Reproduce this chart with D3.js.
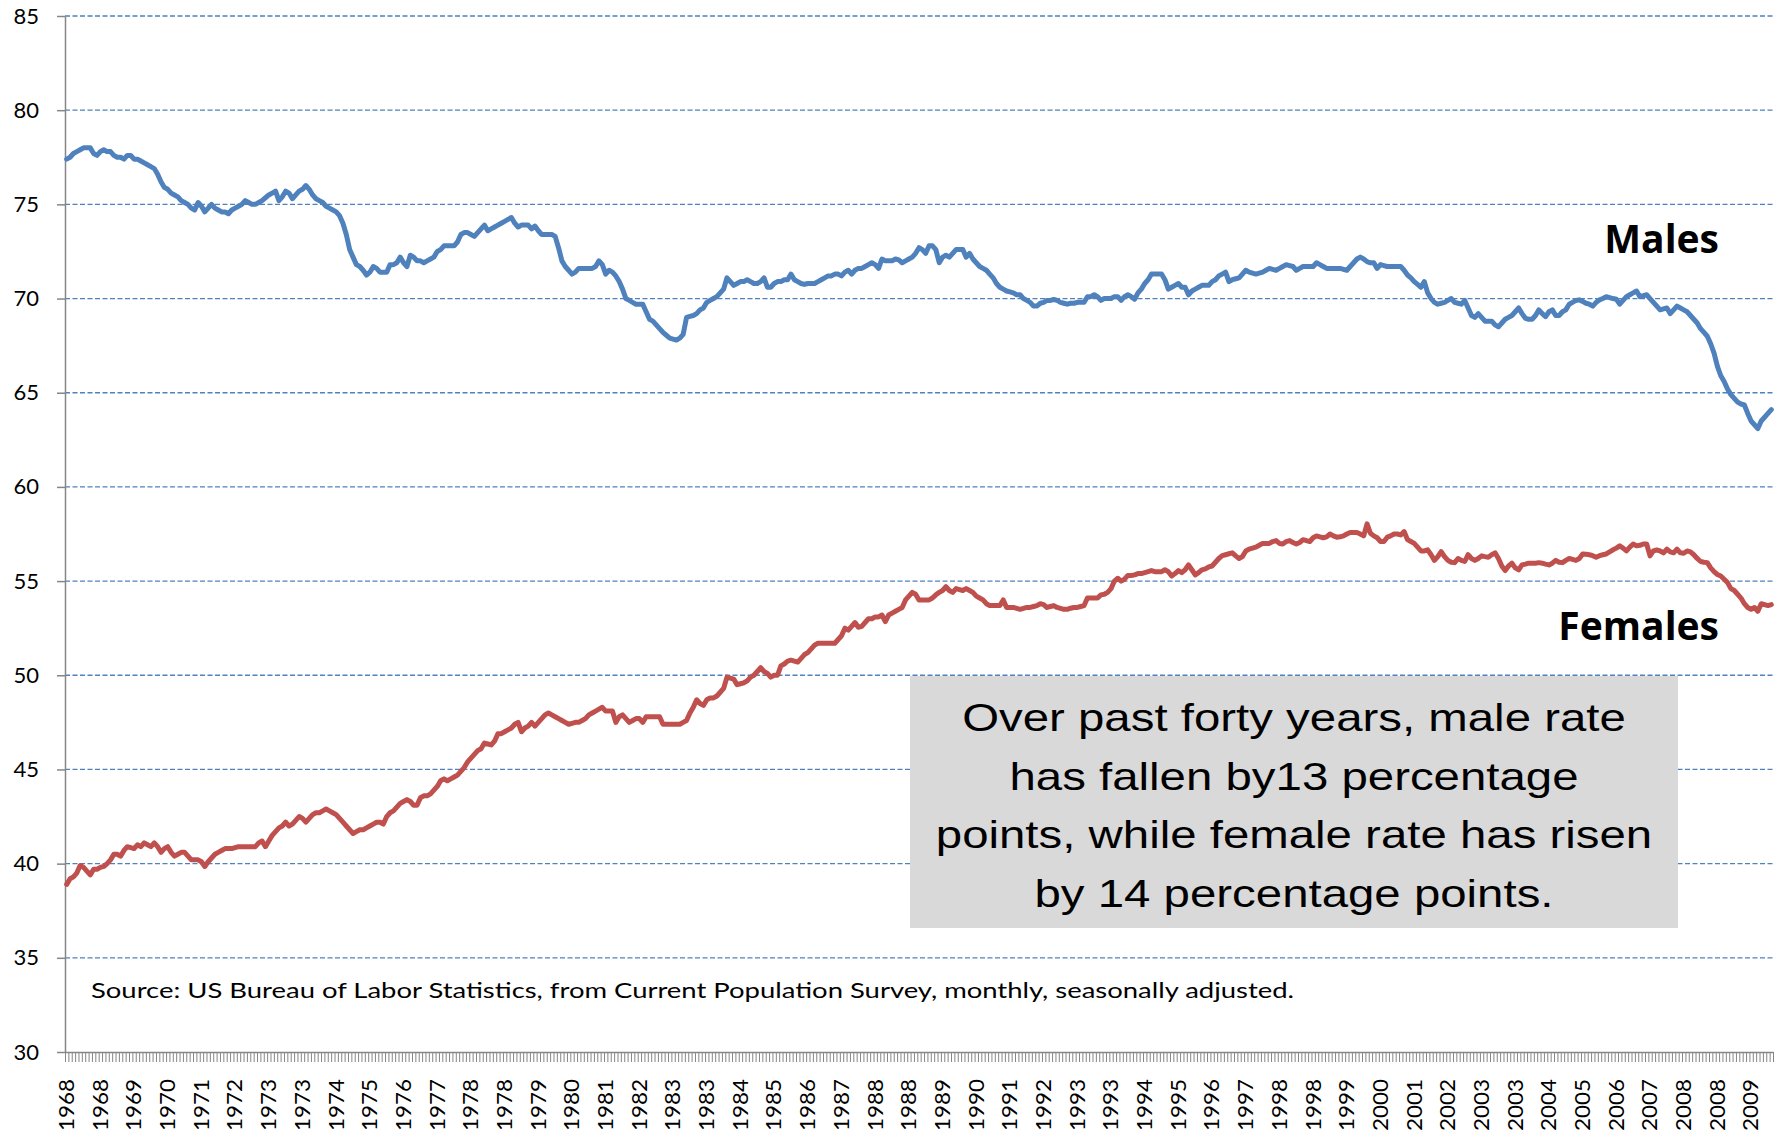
<!DOCTYPE html>
<html>
<head>
<meta charset="utf-8">
<script src="https://cdn.jsdelivr.net/npm/d3@7"></script>
<style>
    body { margin: 0; background: #ffffff; }
    .gridLines { stroke: #4f81bd; stroke-width: 1.3; stroke-dasharray: 5,2.5; }
    .axis path, .axis line { stroke: #868686; stroke-width: 1.5; fill: none; }
    .xAxis line { stroke-width: 1; }
    .axis text { font-family: Lato, sans-serif; font-size: 22px; fill: #000000; }
    .yearLabel { font-family: Lato, sans-serif; font-size: 21px; fill: #000000; }
    .seriesLabel { font-family: "Open Sans", sans-serif; font-weight: bold; font-size: 39px; fill: #000000; }
    .noteText { font-family: "Liberation Sans", Arial, sans-serif; font-size: 47.4px; fill: #000000; }
    .source { font-family: Lato, sans-serif; font-size: 21.5px; fill: #000000; }
</style>
</head>
<body>
<script>
(function(){
    //pseudo-global data (monthly, Jan 1968 - Mar 2010)
    var yTicks = [30, 35, 40, 45, 50, 55, 60, 65, 70, 75, 80, 85];
    var gridValues = [35, 40, 45, 50, 55, 60, 65, 70, 75, 80, 85];
    var labelEvery = 10; //a year label every 10 months
    var xLabels = ["1968","1968","1969","1970","1971","1972","1973","1973","1974","1975",
        "1976","1977","1978","1978","1979","1980","1981","1982","1983","1983",
        "1984","1985","1986","1987","1988","1988","1989","1990","1991","1992",
        "1993","1993","1994","1995","1996","1997","1998","1998","1999","2000",
        "2001","2002","2003","2003","2004","2005","2006","2007","2008","2008","2009"];

    var males = [
        77.4,77.5,77.7,77.8,77.9,78.0,78.0,78.0,77.7,77.6,77.8,77.9,
        77.8,77.8,77.6,77.5,77.5,77.4,77.6,77.6,77.4,77.4,77.3,77.2,
        77.1,77.0,76.9,76.6,76.2,75.9,75.8,75.6,75.5,75.4,75.2,75.1,
        75.0,74.8,74.7,75.1,74.9,74.6,74.8,75.0,74.8,74.7,74.6,74.6,
        74.5,74.7,74.8,74.9,75.0,75.2,75.1,75.0,75.0,75.1,75.2,75.35,
        75.5,75.6,75.7,75.2,75.4,75.7,75.6,75.3,75.5,75.7,75.8,76.0,
        75.8,75.5,75.3,75.2,75.1,74.9,74.8,74.7,74.6,74.4,74.0,73.4,
        72.6,72.2,71.8,71.7,71.5,71.25,71.4,71.7,71.6,71.4,71.4,71.4,
        71.8,71.8,71.9,72.2,71.9,71.7,72.3,72.2,72.0,72.0,71.9,72.0,
        72.1,72.2,72.5,72.6,72.8,72.8,72.8,72.8,73.0,73.4,73.5,73.5,
        73.4,73.3,73.5,73.7,73.9,73.6,73.7,73.8,73.9,74.0,74.1,74.2,
        74.3,74.0,73.8,73.9,73.9,73.9,73.7,73.85,73.6,73.4,73.4,73.4,
        73.4,73.3,72.7,72.0,71.7,71.5,71.3,71.4,71.6,71.6,71.6,71.6,
        71.6,71.7,72.0,71.8,71.3,71.5,71.4,71.2,70.9,70.5,70.0,69.9,
        69.8,69.7,69.7,69.7,69.3,68.9,68.8,68.6,68.4,68.2,68.05,67.9,
        67.85,67.8,67.9,68.1,69.0,69.05,69.1,69.2,69.4,69.5,69.8,69.9,
        70.0,70.1,70.3,70.5,71.1,70.9,70.7,70.8,70.9,70.9,71.0,70.9,
        70.8,70.8,70.9,71.1,70.6,70.6,70.8,70.9,70.9,71.0,71.0,71.3,
        71.0,70.9,70.8,70.75,70.8,70.8,70.8,70.9,71.0,71.1,71.2,71.2,
        71.3,71.3,71.2,71.4,71.5,71.3,71.5,71.6,71.6,71.7,71.8,71.9,
        71.8,71.6,72.1,72.0,72.0,72.0,72.1,72.05,71.9,72.0,72.1,72.2,
        72.4,72.7,72.6,72.4,72.8,72.8,72.6,71.9,72.2,72.3,72.2,72.4,
        72.6,72.6,72.6,72.2,72.4,72.1,71.9,71.7,71.6,71.5,71.3,71.1,
        70.8,70.6,70.5,70.4,70.35,70.3,70.2,70.2,70.0,69.9,69.8,69.6,
        69.6,69.75,69.8,69.9,69.9,69.95,69.9,69.8,69.75,69.7,69.75,69.75,
        69.8,69.8,69.8,70.1,70.1,70.2,70.1,69.9,70.0,70.0,70.0,70.1,
        70.1,69.9,70.1,70.2,70.1,69.96,70.3,70.5,70.8,71.0,71.3,71.3,
        71.3,71.3,71.0,70.5,70.6,70.7,70.8,70.6,70.6,70.2,70.4,70.5,
        70.6,70.7,70.7,70.7,70.9,71.0,71.2,71.3,71.4,70.9,71.0,71.05,
        71.1,71.3,71.5,71.4,71.35,71.3,71.35,71.4,71.5,71.6,71.55,71.5,
        71.6,71.7,71.8,71.75,71.7,71.5,71.6,71.7,71.7,71.7,71.7,71.9,
        71.8,71.7,71.6,71.6,71.6,71.6,71.6,71.55,71.5,71.7,71.9,72.1,
        72.2,72.1,71.96,71.9,71.9,71.6,71.8,71.75,71.7,71.7,71.7,71.7,
        71.7,71.5,71.25,71.1,70.9,70.75,70.6,70.9,70.3,70.0,69.8,69.7,
        69.75,69.8,69.9,70.0,69.8,69.75,69.7,69.9,69.5,69.1,69.0,69.2,
        69.0,68.8,68.8,68.8,68.6,68.5,68.7,68.9,69.0,69.1,69.3,69.5,
        69.2,68.95,68.9,68.9,69.1,69.4,69.2,69.04,69.3,69.4,69.1,69.1,
        69.3,69.4,69.7,69.8,69.9,69.93,69.85,69.75,69.7,69.6,69.8,69.93,
        70.0,70.1,70.05,70.0,69.96,69.7,69.9,70.1,70.2,70.3,70.4,70.1,
        70.15,70.2,70.0,69.8,69.6,69.4,69.45,69.5,69.2,69.4,69.6,69.5,
        69.4,69.3,69.1,68.9,68.7,68.4,68.2,68.0,67.6,67.1,66.4,65.9,
        65.6,65.2,64.9,64.7,64.5,64.4,64.35,63.9,63.5,63.3,63.1,63.5,
        63.7,63.9,64.1
    ];

    var females = [
        38.9,39.2,39.3,39.5,39.9,39.8,39.6,39.4,39.7,39.7,39.8,39.85,
        40.0,40.2,40.5,40.5,40.4,40.7,40.9,40.85,40.8,41.0,40.9,41.1,
        41.0,40.9,41.1,40.9,40.6,40.8,40.9,40.6,40.4,40.5,40.6,40.6,
        40.4,40.2,40.2,40.2,40.1,39.85,40.1,40.3,40.5,40.6,40.7,40.8,
        40.8,40.8,40.85,40.9,40.9,40.9,40.9,40.9,40.9,41.1,41.2,40.9,
        41.2,41.5,41.7,41.9,42.0,42.2,42.0,42.1,42.3,42.5,42.4,42.2,
        42.4,42.6,42.7,42.7,42.8,42.9,42.8,42.7,42.6,42.4,42.2,42.0,
        41.8,41.6,41.7,41.8,41.8,41.9,42.0,42.1,42.2,42.2,42.1,42.5,
        42.7,42.8,43.0,43.2,43.3,43.4,43.3,43.1,43.1,43.5,43.6,43.6,
        43.7,43.9,44.1,44.4,44.5,44.4,44.5,44.6,44.7,44.9,45.1,45.4,
        45.6,45.8,46.0,46.1,46.4,46.35,46.3,46.5,46.9,46.9,47.0,47.1,
        47.2,47.4,47.5,47.0,47.2,47.3,47.5,47.3,47.5,47.7,47.9,48.0,
        47.9,47.8,47.7,47.6,47.5,47.4,47.45,47.5,47.5,47.6,47.7,47.9,
        48.0,48.1,48.2,48.3,48.1,48.1,48.1,47.5,47.8,47.9,47.7,47.5,
        47.6,47.7,47.7,47.5,47.8,47.8,47.8,47.8,47.8,47.4,47.4,47.4,
        47.4,47.4,47.4,47.5,47.6,48.0,48.3,48.7,48.5,48.4,48.7,48.8,
        48.8,48.9,49.1,49.3,49.9,49.85,49.8,49.5,49.55,49.6,49.7,49.9,
        50.0,50.2,50.4,50.2,50.1,49.9,50.0,50.0,50.5,50.6,50.75,50.8,
        50.75,50.7,50.9,51.1,51.2,51.4,51.6,51.7,51.7,51.7,51.7,51.7,
        51.7,51.9,52.1,52.5,52.4,52.6,52.8,52.55,52.6,52.8,53.0,53.0,
        53.1,53.1,53.2,52.85,53.2,53.3,53.4,53.5,53.6,54.0,54.2,54.4,
        54.3,54.0,54.0,54.0,54.0,54.1,54.27,54.4,54.5,54.7,54.5,54.4,
        54.6,54.55,54.5,54.6,54.5,54.4,54.2,54.1,54.0,53.8,53.7,53.7,
        53.7,53.7,54.0,53.6,53.6,53.6,53.55,53.5,53.55,53.6,53.6,53.65,
        53.7,53.8,53.75,53.6,53.65,53.7,53.6,53.55,53.5,53.5,53.56,53.6,
        53.6,53.65,53.7,54.1,54.1,54.1,54.1,54.27,54.3,54.4,54.6,55.0,
        55.15,55.0,55.1,55.3,55.3,55.33,55.4,55.4,55.45,55.5,55.56,55.5,
        55.5,55.5,55.6,55.5,55.27,55.4,55.56,55.45,55.6,55.86,55.6,55.33,
        55.45,55.6,55.65,55.75,55.8,56.0,56.2,56.35,56.4,56.45,56.5,56.34,
        56.2,56.3,56.6,56.7,56.75,56.8,56.9,57.0,57.0,57.0,57.1,57.15,
        57.0,56.97,57.1,57.15,57.05,56.97,57.05,57.2,57.15,57.1,57.3,57.4,
        57.35,57.3,57.35,57.5,57.4,57.33,57.35,57.4,57.5,57.58,57.58,57.58,
        57.5,57.4,58.04,57.54,57.4,57.3,57.1,57.1,57.33,57.4,57.5,57.5,
        57.45,57.63,57.2,57.1,57.0,56.8,56.6,56.6,56.66,56.4,56.1,56.3,
        56.57,56.3,56.1,56.0,55.98,56.2,56.1,56.04,56.4,56.2,56.1,56.2,
        56.34,56.3,56.27,56.4,56.5,56.2,55.8,55.56,55.8,55.95,55.7,55.6,
        55.86,55.9,55.95,55.95,55.95,55.98,55.95,55.9,55.86,55.95,56.1,56.0,
        55.98,56.1,56.2,56.15,56.1,56.2,56.44,56.42,56.4,56.35,56.27,56.35,
        56.4,56.44,56.55,56.66,56.75,56.87,56.75,56.6,56.8,56.97,56.87,56.9,
        56.97,56.97,56.34,56.6,56.65,56.6,56.5,56.7,56.55,56.5,56.7,56.5,
        56.48,56.6,56.55,56.4,56.2,56.04,56.0,55.98,55.7,55.5,55.35,55.27,
        55.1,54.92,54.6,54.5,54.3,54.1,53.8,53.6,53.5,53.6,53.4,53.8,
        53.75,53.7,53.75
    ];

    var noteLines = ["Over past forty years, male rate",
        "has fallen by13 percentage",
        "points, while female rate has risen",
        "by 14 percentage points."];
    var sourceNote = "Source: US Bureau of Labor Statistics, from Current Population Survey, monthly, seasonally adjusted.";

    //begin script when window loads
    window.onload = setChart();

    function setChart(){
        //chart frame dimensions
        var width = 1783,
            height = 1135,
            left = 65,
            right = 1773,
            top = 16,
            bottom = 1052;

        var svg = d3.select("body")
            .append("svg")
            .attr("width", width)
            .attr("height", height);

        //one band per month, line points sit in the middle of each band
        var xScale = d3.scaleLinear()
            .domain([0, males.length])
            .range([left, right]);

        var yScale = d3.scaleLinear()
            .domain([30, 85])
            .range([bottom, top]);

        setGridlines(svg, xScale, yScale);
        setAxes(svg, xScale, yScale);

        drawLine(svg, males, "#4f81bd", xScale, yScale);
        drawLine(svg, females, "#c0504d", xScale, yScale);

        setLabels(svg);
    }

    function setGridlines(svg, xScale, yScale){
        svg.selectAll(".gridLines")
            .data(gridValues)
            .enter()
            .append("line")
            .attr("class", "gridLines")
            .attr("x1", xScale(0))
            .attr("x2", xScale(males.length))
            .attr("y1", function(d){ return yScale(d); })
            .attr("y2", function(d){ return yScale(d); });
    }

    function setAxes(svg, xScale, yScale){
        //vertical axis
        var yAxis = d3.axisLeft(yScale)
            .tickValues(yTicks)
            .tickSize(8)
            .tickSizeOuter(0)
            .tickPadding(18);

        svg.append("g")
            .attr("class", "axis yAxis")
            .attr("transform", "translate(" + xScale(0) + ",0)")
            .call(yAxis);

        //horizontal axis: a tick between every month
        var xAxis = d3.axisBottom(xScale)
            .tickValues(d3.range(0, males.length + 1))
            .tickSize(10)
            .tickSizeOuter(0)
            .tickFormat("");

        svg.append("g")
            .attr("class", "axis xAxis")
            .attr("transform", "translate(0," + yScale(30) + ")")
            .call(xAxis);

        //rotated year labels, kept inside the bottom edge
        svg.selectAll(".yearLabel")
            .data(xLabels)
            .enter()
            .append("text")
            .attr("class", "yearLabel")
            .attr("text-anchor", "end")
            .attr("dy", "0.35em")
            .attr("textLength", 52)
            .attr("lengthAdjust", "spacingAndGlyphs")
            .attr("transform", function(d, i){
                return "translate(" + xScale(i * labelEvery + 0.5) + ",1079) rotate(-90)";
            })
            .text(function(d){ return d; });
    }

    function drawLine(svg, values, color, xScale, yScale){
        var line = d3.line()
            .x(function(d, i){ return xScale(i + 0.5); })
            .y(function(d){ return yScale(d); });

        svg.append("path")
            .datum(values)
            .attr("d", line)
            .attr("fill", "none")
            .attr("stroke", color)
            .attr("stroke-width", 5)
            .attr("stroke-linejoin", "round")
            .attr("stroke-linecap", "round");
    }

    function setLabels(svg){
        svg.append("text")
            .attr("class", "seriesLabel")
            .attr("x", 1719)
            .attr("y", 253)
            .attr("text-anchor", "end")
            .text("Males");

        svg.append("text")
            .attr("class", "seriesLabel")
            .attr("x", 1719)
            .attr("y", 640)
            .attr("text-anchor", "end")
            .text("Females");

        //grey note box
        svg.append("rect")
            .attr("x", 910)
            .attr("y", 676)
            .attr("width", 768)
            .attr("height", 252)
            .attr("fill", "#d9d9d9");

        svg.selectAll(".noteText")
            .data(noteLines)
            .enter()
            .append("text")
            .attr("class", "noteText")
            .attr("text-anchor", "middle")
            .attr("transform", function(d, i){
                return "translate(1294," + (731 + i * 58.5) + ") scale(1,0.83)";
            })
            .text(function(d){ return d; });

        svg.append("text")
            .attr("class", "source")
            .attr("x", 91)
            .attr("y", 998)
            .attr("textLength", 1203)
            .attr("lengthAdjust", "spacingAndGlyphs")
            .text(sourceNote);
    }
})();
</script>
</body>
</html>
